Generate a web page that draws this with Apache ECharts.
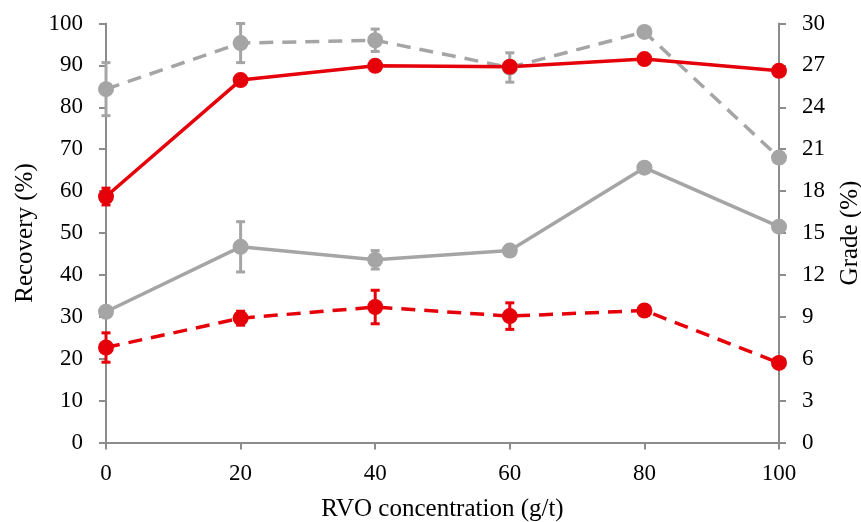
<!DOCTYPE html>
<html><head><meta charset="utf-8">
<script src="https://cdn.jsdelivr.net/npm/echarts@6/dist/echarts.min.js"></script>
<style>html,body{margin:0;padding:0;background:#fff}#c{width:861px;height:522px}</style>
</head><body><div id="c"></div>
<script>
const conc = [0, 20, 40, 60, 80, 100];
const redRecovery = [58.7, 86.5, 89.9, 89.7, 91.5, 88.7];
const redRecoveryErr = [2, 0, 0, 0, 0, 0];
const grayRecovery = [31.2, 46.7, 43.6, 45.8, 65.6, 51.5];
const grayRecoveryErr = [0, 6, 2.2, 0, 0, 0];
const grayGrade = [25.3, 28.6, 28.8, 26.85, 29.4, 20.4];
const grayGradeErr = [1.9, 1.4, 0.8, 1.05, 0, 0];
const redGrade = [6.8, 8.9, 9.7, 9.05, 9.45, 5.7];
const redGradeErr = [1.05, 0.5, 1.2, 0.95, 0, 0];

const RED = '#e5000a', GRAY = '#a5a5a5', AX = '#8c8c8c';
const FONT = '"Liberation Serif","Times New Roman",serif';

function pts(vals){ return conc.map((x,i)=>[x, vals[i]]); }
function errData(vals, errs){ return conc.map((x,i)=>[x, vals[i]-errs[i], vals[i]+errs[i]]).filter((d,i)=>errs[i]>0); }
function errSeries(vals, errs, color, yIdx){
  return {
    type:'custom', yAxisIndex:yIdx, z:3, silent:true,
    data: errData(vals, errs),
    renderItem(params, api){
      const lo = api.coord([api.value(0), api.value(1)]);
      const hi = api.coord([api.value(0), api.value(2)]);
      const w = 4.5;
      const st = {stroke: color, lineWidth: 3};
      return {type:'group', children:[
        {type:'line', shape:{x1:lo[0],y1:lo[1],x2:hi[0],y2:hi[1]}, style:st},
        {type:'line', shape:{x1:lo[0]-w,y1:lo[1],x2:lo[0]+w,y2:lo[1]}, style:st},
        {type:'line', shape:{x1:hi[0]-w,y1:hi[1],x2:hi[0]+w,y2:hi[1]}, style:st}
      ]};
    }
  };
}
function lineSeries(name, vals, color, dashed, yIdx){
  return {
    name, type:'line', yAxisIndex:yIdx, data: pts(vals), z:4,
    symbol:'circle', symbolSize:16,
    itemStyle:{color},
    lineStyle:{color, width:3.5, type: dashed ? [14,9] : 'solid'}
  };
}
const axisCommon = {
  axisLine:{show:true, lineStyle:{color:AX, width:2}},
  axisTick:{show:true, inside:false, length:7, lineStyle:{color:AX, width:2}},
  splitLine:{show:false},
  axisLabel:{color:'#000', fontFamily:FONT, fontSize:23},
  nameTextStyle:{color:'#000', fontFamily:FONT, fontSize:25}
};
const chart = echarts.init(document.getElementById('c'));
chart.setOption({
  animation:false,
  backgroundColor:'#fff',
  grid:{left:106, right:82, top:23.5, bottom:79.5, containLabel:false, outerBoundsMode:'none'},
  xAxis:Object.assign({}, axisCommon, {
    type:'value', min:0, max:100, interval:20,
    name:'RVO concentration (g/t)', nameLocation:'middle', nameGap:54,
    axisLabel:Object.assign({}, axisCommon.axisLabel, {margin:20})
  }),
  yAxis:[
    Object.assign({}, axisCommon, {
      type:'value', min:0, max:100, interval:10, position:'left',
      name:'Recovery (%)', nameLocation:'middle', nameGap:65,
      axisLabel:Object.assign({}, axisCommon.axisLabel, {margin:23})
    }),
    Object.assign({}, axisCommon, {
      type:'value', min:0, max:30, interval:3, position:'right',
      name:'Grade (%)', nameLocation:'middle', nameGap:59, nameRotate:90,
      axisLabel:Object.assign({}, axisCommon.axisLabel, {margin:23})
    })
  ],
  series:[
    errSeries(grayGrade, grayGradeErr, GRAY, 1),
    errSeries(grayRecovery, grayRecoveryErr, GRAY, 0),
    errSeries(redGrade, redGradeErr, RED, 1),
    errSeries(redRecovery, redRecoveryErr, RED, 0),
    lineSeries('Gray grade', grayGrade, GRAY, true, 1),
    lineSeries('Gray recovery', grayRecovery, GRAY, false, 0),
    lineSeries('Red grade', redGrade, RED, true, 1),
    lineSeries('Red recovery', redRecovery, RED, false, 0)
  ]
});
</script></body></html>
